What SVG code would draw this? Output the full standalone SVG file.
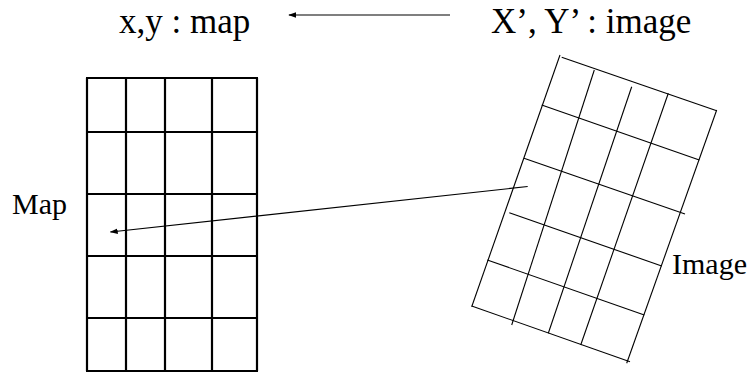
<svg xmlns="http://www.w3.org/2000/svg" width="755" height="372" viewBox="0 0 755 372">
<style>
text{font-family:"Liberation Serif","Times New Roman",serif;fill:#000}
.hdr{font-size:35px}
.lbl{font-size:30px}
.map line{stroke:#000;stroke-width:2.2}
.img line{stroke:#000;stroke-width:1.1}
.conn{stroke:#000;stroke-width:1.1;fill:none}
</style>
<defs>
<marker id="ah" viewBox="0 0 10 10" refX="9" refY="5" markerWidth="8" markerHeight="8" markerUnits="userSpaceOnUse" orient="auto">
<path d="M0,1.5 L10,5 L0,8.5 Z" fill="#000"/>
</marker>
</defs>
<rect width="755" height="372" fill="#fff"/>
<g id="title-map"><text class="hdr" x="119" y="33">x,y : map</text></g>
<g id="title-image"><text class="hdr" x="491" y="33">X’, Y’ : image</text></g>
<g id="map-label"><text class="lbl" x="12" y="214">Map</text></g>
<g id="image-label"><text class="lbl" x="672" y="274">Image</text></g>
<g id="map" class="map">
<line x1="87" y1="78" x2="87" y2="371"/>
<line x1="126" y1="78" x2="126" y2="371"/>
<line x1="165" y1="78" x2="165" y2="371"/>
<line x1="212" y1="78" x2="212" y2="371"/>
<line x1="257" y1="78" x2="257" y2="371"/>
<line x1="86" y1="78" x2="258" y2="78"/>
<line x1="86" y1="132" x2="258" y2="132"/>
<line x1="86" y1="194" x2="258" y2="194"/>
<line x1="86" y1="256" x2="258" y2="256"/>
<line x1="86" y1="318" x2="258" y2="318"/>
<line x1="86" y1="371" x2="258" y2="371"/>
</g>
<g id="image" class="img">
<line x1="561.7" y1="57.3" x2="716.7" y2="110.7"/>
<line x1="541.7" y1="105" x2="699.3" y2="160"/>
<line x1="524" y1="158.3" x2="685" y2="214"/>
<line x1="509.3" y1="212.7" x2="661.7" y2="266"/>
<line x1="487.3" y1="260" x2="644.3" y2="315"/>
<line x1="471.7" y1="306" x2="630" y2="361.7"/>
<line x1="560" y1="55" x2="471.7" y2="306.7"/>
<line x1="594.3" y1="70" x2="511.7" y2="325"/>
<line x1="631.7" y1="86.7" x2="548.3" y2="333.3"/>
<line x1="668.3" y1="93.3" x2="580.7" y2="345"/>
<line x1="716.7" y1="110" x2="626.7" y2="363.3"/>
</g>
<g id="connectors">
<line class="conn" x1="450" y1="15" x2="289" y2="15" marker-end="url(#ah)"/>
<line class="conn" x1="527.7" y1="186.5" x2="110.5" y2="232" marker-end="url(#ah)"/>
</g>
</svg>
